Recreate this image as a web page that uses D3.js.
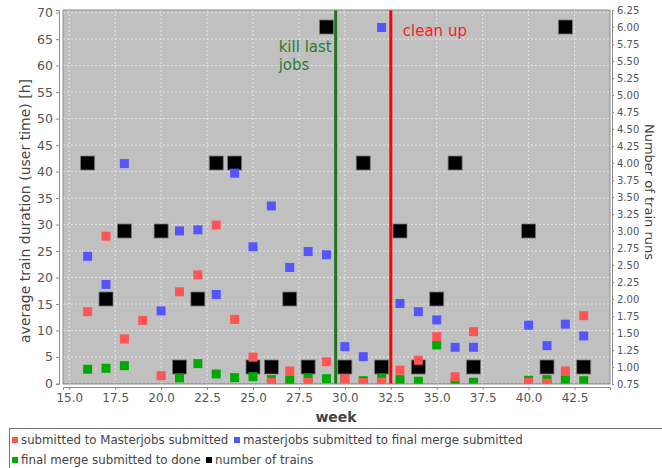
<!DOCTYPE html>
<html>
<head>
<meta charset="utf-8">
<script src="https://cdn.jsdelivr.net/npm/d3@7"></script>
<style>
body { margin: 0; background: #fff; }
svg { display: block; font-family: 'DejaVu Sans', sans-serif; }
</style>
</head>
<body>
<div id="chart"></div>
<script>
// Setmanes i valors llegits de la imatge
const redWeeks = [16, 17, 18, 19, 20, 21, 22, 23, 24, 25, 26, 27, 28, 29, 30, 31, 32, 33, 34, 35, 36, 37, 40, 41, 42, 43];
const redValues = [13.55, 27.8, 8.4, 11.9, 1.47, 17.3, 20.5, 29.9, 12.1, 4.97, 0.23, 2.36, 0.23, 4.1, 0.9, 0.15, 0.23, 2.5, 4.38, 8.83, 1.28, 9.78, 0.23, 0.05, 2.36, 12.8];

const blueWeeks = [16, 17, 18, 20, 21, 22, 23, 24, 25, 26, 27, 28, 29, 30, 31, 32, 33, 34, 35, 36, 37, 40, 41, 42, 43];
const blueValues = [24.0, 18.7, 41.5, 13.7, 28.8, 29.0, 16.8, 39.7, 25.8, 33.5, 21.9, 24.9, 24.3, 6.95, 5.06, 67.2, 15.1, 13.55, 12.0, 6.83, 6.83, 11.0, 7.14, 11.2, 8.97];

const greenWeeks = [16, 17, 18, 21, 22, 23, 24, 25, 26, 27, 28, 29, 30, 31, 32, 33, 34, 35, 36, 37, 40, 41, 42, 43];
const greenValues = [2.68, 2.87, 3.36, 1.04, 3.74, 1.79, 1.1, 1.28, 0.72, 0.66, 1.04, 0.9, 0.9, 0.53, 1.04, 0.72, 0.42, 7.27, 0.05, 0.23, 0.6, 0.72, 0.66, 0.53];

const trainWeeks = [16, 17, 18, 20, 21, 22, 23, 24, 25, 26, 27, 28, 29, 30, 31, 32, 33, 34, 35, 36, 37, 40, 41, 42, 43];
const trainCounts = [4, 2, 3, 3, 1, 2, 4, 4, 1, 1, 2, 1, 6, 1, 4, 1, 3, 1, 2, 4, 1, 3, 1, 6, 1];

const xTicks = [15.0, 17.5, 20.0, 22.5, 25.0, 27.5, 30.0, 32.5, 35.0, 37.5, 40.0, 42.5];
const leftTicks = d3.range(0, 71, 5);
const rightTicks = d3.range(0.75, 6.26, 0.25);

const markers = [
    { week: 29.5, label: ['kill last', 'jobs'], color: '#217321', textColor: '#2a7d2a' },
    { week: 32.5, label: ['clean up'], color: '#ff0000', textColor: '#ff1a1a' }
];

const legendItems = [
    { label: 'submitted to Masterjobs submitted', color: '#ff5555' },
    { label: 'masterjobs submitted to final merge submitted', color: '#5555ff' },
    { label: 'final merge submitted to done', color: '#00aa00' },
    { label: 'number of trains', color: '#000000' }
];

const W = 662, H = 468;
const plot = { left: 63, right: 610, top: 10, bottom: 384 };

const svg = d3.select('#chart').append('svg')
    .attr('width', W)
    .attr('height', H);

// Escales
const x = d3.scaleLinear().domain([14.66, 44.43]).range([plot.left, plot.right]);
const yL = d3.scaleLinear().domain([-0.1, 70.5]).range([plot.bottom, plot.top]);
const yR = d3.scaleLinear().domain([0.75, 6.25]).range([plot.bottom, plot.top]);

// Fons del gràfic
svg.append('rect')
    .attr('x', plot.left)
    .attr('y', plot.top)
    .attr('width', plot.right - plot.left)
    .attr('height', plot.bottom - plot.top)
    .attr('fill', '#c0c0c0');

// Graella
svg.append('g')
    .selectAll('line')
    .data(xTicks)
    .enter()
    .append('line')
    .attr('x1', d => x(d))
    .attr('x2', d => x(d))
    .attr('y1', plot.top)
    .attr('y2', plot.bottom)
    .attr('stroke', '#e6e6e6')
    .attr('stroke-dasharray', '2,2');

svg.append('g')
    .selectAll('line')
    .data(leftTicks)
    .enter()
    .append('line')
    .attr('x1', plot.left)
    .attr('x2', plot.right)
    .attr('y1', d => yL(d))
    .attr('y2', d => yL(d))
    .attr('stroke', d => d === 0 ? '#9a98b8' : '#e6e6e6')
    .attr('stroke-dasharray', '2,2');

svg.append('clipPath').attr('id', 'plot-clip')
    .append('rect')
    .attr('x', plot.left)
    .attr('y', plot.top)
    .attr('width', plot.right - plot.left)
    .attr('height', plot.bottom - plot.top);

const marks = svg.append('g').attr('clip-path', 'url(#plot-clip)');

// Nombre de trens (eix dret)
const bigSize = 14;
marks.selectAll('.train')
    .data(trainWeeks.map((w, i) => ({ w, v: trainCounts[i] })))
    .enter()
    .append('rect')
    .attr('class', 'train')
    .attr('x', d => x(d.w) - bigSize / 2)
    .attr('y', d => yR(d.v) - bigSize / 2)
    .attr('width', bigSize)
    .attr('height', bigSize)
    .attr('fill', '#000')
    .attr('stroke', '#777')
    .attr('stroke-width', 0.8);

// Sèries de durades (eix esquerre), en ordre invers
const smallSize = 9;
const series = [
    { weeks: greenWeeks, values: greenValues, color: '#00aa00' },
    { weeks: blueWeeks, values: blueValues, color: '#5555ff' },
    { weeks: redWeeks, values: redValues, color: '#ff5555' }
];
series.forEach(s => {
    marks.append('g')
        .selectAll('rect')
        .data(s.weeks.map((w, i) => ({ w, v: s.values[i] })))
        .enter()
        .append('rect')
        .attr('x', d => x(d.w) - smallSize / 2)
        .attr('y', d => yL(d.v) - smallSize / 2)
        .attr('width', smallSize)
        .attr('height', smallSize)
        .attr('fill', s.color);
});

// Línies verticals
markers.forEach((m, i) => {
    const mx = x(m.week);
    svg.append('line')
        .attr('x1', mx)
        .attr('x2', mx)
        .attr('y1', plot.top)
        .attr('y2', plot.bottom)
        .attr('stroke', m.color)
        .attr('stroke-width', 3);
    const t = svg.append('text')
        .attr('font-size', '15px')
        .attr('fill', m.textColor);
    if (i === 0) {
        t.attr('x', mx - 57).attr('y', 52);
        m.label.forEach((line, j) => {
            t.append('tspan').attr('x', mx - 57).attr('dy', j === 0 ? 0 : 18).text(line);
        });
    } else {
        t.attr('x', mx + 12).attr('y', 36).text(m.label[0]);
    }
});

// Vora del gràfic
svg.append('rect')
    .attr('x', plot.left)
    .attr('y', plot.top)
    .attr('width', plot.right - plot.left)
    .attr('height', plot.bottom - plot.top)
    .attr('fill', 'none')
    .attr('stroke', '#8c8c8c');

// Eixos
function styleAxis(g, size) {
    g.select('.domain').attr('stroke', '#8c8c8c');
    g.selectAll('.tick line').attr('stroke', '#8c8c8c');
    g.selectAll('.tick text').attr('fill', '#555').attr('font-size', size).attr('font-family', "'DejaVu Sans', sans-serif");
}

svg.append('g')
    .attr('transform', `translate(0,${plot.bottom + 3})`)
    .call(d3.axisBottom(x).tickValues(xTicks).tickFormat(d3.format('.1f')).tickSizeOuter(0).tickSize(3).tickPadding(3))
    .call(g => styleAxis(g, '12px'));

svg.append('g')
    .attr('transform', `translate(${plot.left - 4},0)`)
    .call(d3.axisLeft(yL).tickValues(leftTicks).tickFormat(d3.format('d')).tickSizeOuter(0).tickSize(3).tickPadding(3))
    .call(g => styleAxis(g, '12.5px'));

svg.append('g')
    .attr('transform', `translate(${plot.right + 2},0)`)
    .call(d3.axisRight(yR).tickValues(rightTicks).tickFormat(d3.format('.2f')).tickSizeOuter(0).tickSize(2).tickPadding(3))
    .call(g => styleAxis(g, '10px'));

// Etiquetes dels eixos
svg.append('text')
    .attr('transform', 'rotate(-90)')
    .attr('x', -211)
    .attr('y', 30)
    .attr('text-anchor', 'middle')
    .attr('font-size', '14px')
    .attr('fill', '#444')
    .text('average train duration (user time) [h]');

svg.append('text')
    .attr('transform', 'rotate(90)')
    .attr('x', 192)
    .attr('y', -645)
    .attr('text-anchor', 'middle')
    .attr('font-size', '13px')
    .attr('fill', '#444')
    .text('Number of train runs');

svg.append('text')
    .attr('x', 336)
    .attr('y', 422)
    .attr('text-anchor', 'middle')
    .attr('font-size', '14px')
    .attr('font-weight', 'bold')
    .attr('fill', '#444')
    .text('week');

// Llegenda
svg.append('rect')
    .attr('x', 9.5)
    .attr('y', 428.5)
    .attr('width', 700)
    .attr('height', 60)
    .attr('fill', '#fff')
    .attr('stroke', '#777');

const legendPos = [
    { x: 12, y: 440 },
    { x: 234, y: 440 },
    { x: 12, y: 460 },
    { x: 206, y: 460 }
];
legendItems.forEach((item, i) => {
    const p = legendPos[i];
    svg.append('rect')
        .attr('x', p.x)
        .attr('y', p.y - 3)
        .attr('width', 6)
        .attr('height', 6)
        .attr('fill', item.color);
    svg.append('text')
        .attr('x', p.x + 9)
        .attr('y', p.y + 4)
        .attr('font-size', '11.8px')
        .attr('fill', '#444')
        .text(item.label);
});
</script>
</body>
</html>
